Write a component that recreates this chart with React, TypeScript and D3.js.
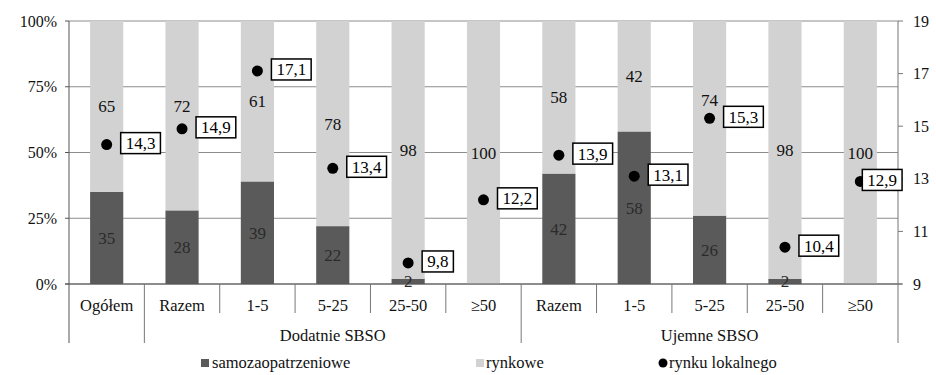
import React from 'react';
import * as d3 from 'd3';

const categories = ["Ogółem", "Razem", "1-5", "5-25", "25-50", "≥50", "Razem", "1-5", "5-25", "25-50", "≥50"];
const groupLabels = ["Dodatnie SBSO", "Ujemne SBSO"];
const groupStarts = [1, 6];
const groupEnds = [5, 10];
const samozaopatrzeniowe = [35, 28, 39, 22, 2, 0, 42, 58, 26, 2, 0];
const rynkowe = [65, 72, 61, 78, 98, 100, 58, 42, 74, 98, 100];
const rynkuLokalnego = [14.3, 14.9, 17.1, 13.4, 9.8, 12.2, 13.9, 13.1, 15.3, 10.4, 12.9];
const leftTicks = [0, 25, 50, 75, 100];
const rightTicks = [9, 11, 13, 15, 17, 19];
const legendLabels = ["samozaopatrzeniowe", "rynkowe", "rynku lokalnego"];

const W = 936, H = 375;
const L = 69, R = 898, T = 21, B = 284;
const DARK = "#5a5a5a";
const LIGHT = "#d2d2d2";
const FONT = '"Liberation Serif", "Times New Roman", Tinos, serif';

// manual label nudges seen in the original
const lightLabelDy: Record<number, number> = { 1: -10, 8: -18 };
const boxDx: Record<number, number> = { 10: 2 };

function fmt(v: number) {
  return v.toFixed(1).replace(".", ",");
}
function textW(s: string, fs: number) {
  let w = 0;
  for (const c of s) w += c === "," ? 0.25 * fs : 0.5 * fs;
  return w;
}

function Txt(props: any) {
  const { children, ...rest } = props;
  return (
    <text className="ser" style={{ fontFamily: FONT }} fill="#111" {...rest}>{children}</text>
  );
}

export default function App() {
  const x = d3.scaleBand<number>().domain(d3.range(categories.length)).range([L, R]).paddingInner(0.56).paddingOuter(0.28);
  const y = d3.scaleLinear().domain([0, 100]).range([B, T]);
  const y2 = d3.scaleLinear().domain([9, 19]).range([B, T]);
  const step = x.step();
  const bw = x.bandwidth();
  const sepX = (i: number) => L + step * i;

  return (
    <svg width={W} height={H} style={{ position: "absolute", left: 0, top: 0, background: "#fff" }}>
      <style>{`text.ser { font-family: "Liberation Serif", "Times New Roman", Tinos, serif !important; }`}</style>
      <rect x={0} y={0} width={W} height={H} fill="#fff" />
      {leftTicks.map(t => (
        <line key={"g" + t} x1={L} x2={R} y1={y(t)} y2={y(t)} stroke="#8c8c8c" strokeWidth={1} />
      ))}
      {categories.map((c, i) => (
        <g key={"b" + i}>
          <rect x={x(i)!} width={bw} y={y(samozaopatrzeniowe[i])} height={y(0) - y(samozaopatrzeniowe[i])} fill={DARK} />
          <rect x={x(i)!} width={bw} y={y(samozaopatrzeniowe[i] + rynkowe[i])} height={y(samozaopatrzeniowe[i]) - y(samozaopatrzeniowe[i] + rynkowe[i])} fill={LIGHT} />
        </g>
      ))}
      <line x1={L} x2={L} y1={T} y2={B + 59} stroke="#555" strokeWidth={1} />
      <line x1={L - 4} x2={R + 4} y1={B} y2={B} stroke="#555" strokeWidth={1} />
      <line x1={R} x2={R} y1={T} y2={B + 59} stroke="#777" strokeWidth={1} />
      {leftTicks.map(t => (
        <g key={"lt" + t}>
          <line x1={L - 4} x2={L} y1={y(t)} y2={y(t)} stroke="#555" />
          <Txt x={57} y={y(t) + 5.5} textAnchor="end" fontSize={16}>{t}%</Txt>
        </g>
      ))}
      {rightTicks.map(t => (
        <g key={"rt" + t}>
          <line x1={R} x2={R + 5} y1={y2(t)} y2={y2(t)} stroke="#777" />
          <Txt x={913} y={y2(t) + 5.5} textAnchor="start" fontSize={16}>{t}</Txt>
        </g>
      ))}
      {categories.map((c, i) => {
        const cx = x(i)! + bw / 2;
        const s = samozaopatrzeniowe[i], r = rynkowe[i];
        return (
          <g key={"bl" + i}>
            {s > 0 && (
              <Txt x={cx} y={y(s / 2) + 6} textAnchor="middle" fontSize={17} fill="#2a2a2a">{s}</Txt>
            )}
            {r > 0 && (
              <Txt x={cx} y={y(s + r / 2) + (lightLabelDy[i] || 0) + 6} textAnchor="middle" fontSize={17}>{r}</Txt>
            )}
          </g>
        );
      })}
      {rynkuLokalnego.map((v, i) => {
        const cx = x(i)! + bw / 2;
        const cy = y2(v);
        const label = fmt(v);
        const tw = textW(label, 17) + 10;
        const bx = cx + (boxDx[i] ?? 14);
        return (
          <g key={"p" + i}>
            <circle cx={cx} cy={cy} r={5.5} fill="#000" />
            <rect x={bx} y={cy - 12} width={tw} height={21} fill="#fff" stroke="#000" strokeWidth={1.5} />
            <Txt x={bx + tw / 2} y={cy + 4.5} textAnchor="middle" fontSize={17} fill="#000">{label}</Txt>
          </g>
        );
      })}
      {d3.range(1, categories.length).map(i => {
        const long = i === 1 || i === 6;
        return <line key={"s" + i} x1={sepX(i)} x2={sepX(i)} y1={B} y2={long ? B + 59 : B + 29} stroke="#777" strokeWidth={1} />;
      })}
      {categories.map((c, i) => (
        <Txt key={"c" + i} x={x(i)! + bw / 2} y={311} textAnchor="middle" fontSize={16.5}>{c}</Txt>
      ))}
      {groupLabels.map((g, k) => (
        <Txt key={"gl" + k} x={(sepX(groupStarts[k]) + sepX(groupEnds[k] + 1)) / 2} y={341} textAnchor="middle" fontSize={16.5}>{g}</Txt>
      ))}
      <rect x={201} y={359} width={8} height={8} fill={DARK} />
      <Txt x={212} y={368} fontSize={16.5}>{legendLabels[0]}</Txt>
      <rect x={476} y={359} width={8} height={8} fill={LIGHT} />
      <Txt x={486} y={368} fontSize={16.5}>{legendLabels[1]}</Txt>
      <circle cx={663} cy={363} r={4.5} fill="#000" />
      <Txt x={669} y={368} fontSize={16.5}>{legendLabels[2]}</Txt>
    </svg>
  );
}
